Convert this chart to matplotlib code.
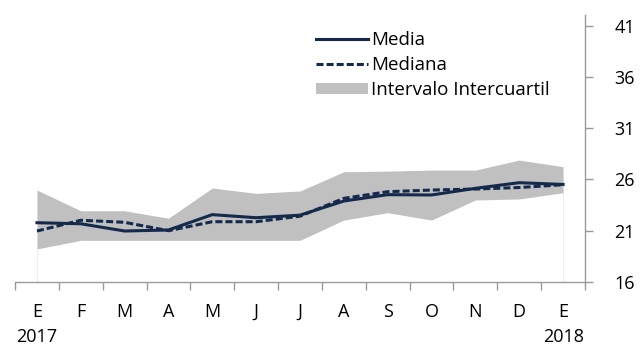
import matplotlib
matplotlib.use("Agg")
import matplotlib.pyplot as plt
from matplotlib.patches import Patch
from matplotlib.lines import Line2D

plt.rcParams['font.family'] = ['Open Sans', 'DejaVu Sans']

months = ["E\n2017", "F", "M", "A", "M", "J", "J", "A", "S", "O", "N", "D", "E\n2018"]
media = [21.76, 21.66, 20.95, 21.05, 22.55, 22.25, 22.5, 23.88, 24.5, 24.47, 25.12, 25.67, 25.5]
mediana = [20.95, 22.0, 21.8, 20.98, 21.86, 21.86, 22.4, 24.14, 24.79, 24.95, 25.05, 25.2, 25.47]
q_low = [19.2, 20.04, 20.04, 20.04, 20.04, 20.04, 20.04, 22.02, 22.74, 22.02, 23.98, 24.08, 24.69]
q_high = [24.95, 22.93, 22.93, 22.2, 25.15, 24.63, 24.86, 26.74, 26.8, 26.9, 26.9, 27.88, 27.23]
yticks = [16, 21, 26, 31, 36, 41]

navy = "#14294B"
band = "#C0C0C0"
axis_c = "#9A9A9A"
fs = 13

fig = plt.figure(figsize=(6.41, 3.5), dpi=100)
ax = fig.add_axes([15/641, 1-281.7/350, 570/641, (281.7-15.5)/350])

x = list(range(len(months)))
ax.fill_between(x, q_low, q_high, color=band, linewidth=0, zorder=1)
ax.vlines([x[0], x[-1]], 16, [q_low[0], q_low[-1]], color="#EDEDED", linewidth=0.8, zorder=0)
ax.plot(x, media, color=navy, linewidth=2.2, solid_joinstyle='round', zorder=3)
ax.plot(x, mediana, color=navy, linewidth=2.2, dashes=(2.3, 1.0), zorder=4)

ax.set_xlim(-0.5, len(months) - 0.5)
ax.set_ylim(16, 42)

ax.set_xticks([i - 0.5 for i in range(len(months) + 1)])
ax.set_xticklabels([])
ax.set_xticks(x, minor=True)
ax.set_xticklabels(months, minor=True, fontsize=fs, linespacing=1.5, va='top')
ax.tick_params(axis='x', which='minor', length=0, pad=15)
ax.tick_params(axis='x', which='major', direction='out', length=6, color=axis_c, width=1)

ax.yaxis.tick_right()
ax.set_yticks(yticks)
ax.set_yticklabels([str(v) for v in yticks], fontsize=fs)
ax.tick_params(axis='y', direction='out', length=6, color=axis_c, width=1, pad=15)

for s in ['top', 'left']:
    ax.spines[s].set_visible(False)
for s in ['bottom', 'right']:
    ax.spines[s].set_color(axis_c)
    ax.spines[s].set_linewidth(1)

handles = [
    Line2D([], [], color=navy, linewidth=2.2),
    Line2D([], [], color=navy, linewidth=2.2, dashes=(2.3, 1.0)),
    Patch(facecolor=band, edgecolor='none'),
]
labels = ["Media", "Mediana", "Intervalo Intercuartil"]
leg = fig.legend(handles, labels, loc='upper left', bbox_to_anchor=(316/641, 1-31/350),
                 frameon=False, fontsize=13.5, handlelength=2.75, handletextpad=0.2,
                 labelspacing=0.38, borderpad=0, borderaxespad=0, handleheight=0.55)

fig.savefig("out.png", dpi=100)
